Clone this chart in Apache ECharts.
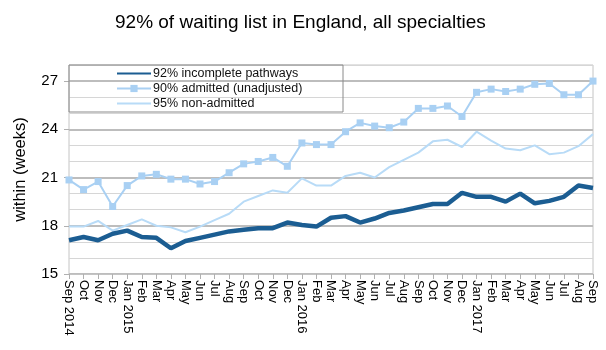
<!DOCTYPE html>
<html>
<head>
<meta charset="utf-8">
<script src="https://cdn.jsdelivr.net/npm/echarts@6/dist/echarts.min.js"></script>
<style>
  html, body { margin: 0; padding: 0; background: #fff; }
  #chart { width: 606px; height: 350px; }
</style>
</head>
<body>
<div id="chart"></div>
<script>
// months Sep 2014 .. Sep 2017
var months = ['Sep 2014','Oct','Nov','Dec','Jan 2015','Feb','Mar','Apr','May','Jun','Jul','Aug',
  'Sep','Oct','Nov','Dec','Jan 2016','Feb','Mar','Apr','May','Jun','Jul','Aug',
  'Sep','Oct','Nov','Dec','Jan 2017','Feb','Mar','Apr','May','Jun','Jul','Aug','Sep'];

var incomplete = [17.1,17.3,17.1,17.5,17.7,17.3,17.25,16.6,17.05,17.25,17.45,17.65,
  17.75,17.85,17.85,18.2,18.05,17.95,18.5,18.6,18.2,18.45,18.8,18.95,
  19.15,19.35,19.35,20.05,19.8,19.8,19.5,20.0,19.4,19.55,19.8,20.5,20.35];

var admitted = [20.85,20.25,20.75,19.2,20.5,21.1,21.2,20.9,20.9,20.6,20.75,21.3,
  21.85,22.0,22.25,21.7,23.15,23.05,23.05,23.85,24.4,24.2,24.1,24.45,
  25.3,25.3,25.45,24.8,26.3,26.5,26.35,26.5,26.8,26.85,26.15,26.15,27.0];

var nonAdmitted = [17.95,17.95,18.3,17.7,18.05,18.4,18.0,17.9,17.6,17.95,18.35,18.75,
  19.5,19.85,20.2,20.05,20.95,20.5,20.5,21.1,21.3,21.0,21.65,22.1,
  22.55,23.25,23.35,22.9,23.85,23.3,22.8,22.7,23.0,22.45,22.55,22.95,23.7];

var yTicks = [15,18,21,24,27];

var chart = echarts.init(document.getElementById('chart'));
chart.setOption({
  animation: false,
  textStyle: { fontFamily: 'Liberation Sans, Arial, sans-serif' },
  title: {
    text: '92% of waiting list in England, all specialties',
    left: 110,
    top: 8,
    textStyle: { fontSize: 19, fontWeight: 'normal', color: '#000' }
  },
  legend: {
    orient: 'vertical',
    left: 116,
    top: 67,
    itemWidth: 34,
    itemHeight: 9,
    itemGap: 2,
    padding: 0,
    textStyle: { fontSize: 12.5, color: '#111', padding: [0, 0, 0, -3] },
    data: [
      { name: '92% incomplete pathways', itemStyle: { opacity: 0 } },
      { name: '90% admitted (unadjusted)' },
      { name: '95% non-admitted', itemStyle: { opacity: 0 } }
    ]
  },
  graphic: [{
    type: 'rect',
    shape: { x: 69, y: 65, width: 274, height: 47 },
    style: { fill: 'none', stroke: '#8a8a8a', lineWidth: 1 },
    z: 10
  }],
  grid: {
    left: 69, right: 13, top: 65, bottom: 76,
    show: true, borderColor: '#c4c4c4', borderWidth: 1
  },
  xAxis: {
    type: 'category',
    data: months,
    boundaryGap: false,
    axisLine: { lineStyle: { color: '#c4c4c4' } },
    axisTick: { show: true, interval: 0, length: 5, lineStyle: { color: '#b0b0b0' } },
    axisLabel: { interval: 0, rotate: -90, fontSize: 13, color: '#000', margin: 6 },
    splitLine: { show: false }
  },
  yAxis: [{
    type: 'value',
    min: 15, max: 28, interval: 1,
    axisLine: { show: false },
    axisTick: { show: false },
    axisLabel: { show: false },
    splitLine: { lineStyle: { color: '#d6d6d6', width: 1 } }
  }, {
    type: 'value',
    position: 'left',
    min: 15, max: 28, interval: 3,
    name: 'within (weeks)',
    nameLocation: 'middle',
    nameGap: 40,
    nameTextStyle: { fontSize: 16.5, color: '#000' },
    axisLine: { show: false },
    axisTick: { show: true, length: 5, customValues: yTicks, lineStyle: { color: '#b0b0b0' } },
    axisLabel: { fontSize: 15, color: '#000', margin: 11, customValues: yTicks },
    splitLine: { lineStyle: { color: '#bdbdbd', width: 2 } }
  }],
  series: [{
    name: '92% incomplete pathways',
    type: 'line',
    data: incomplete,
    showSymbol: false,
    symbol: 'none',
    z: 5,
    itemStyle: { color: '#1b5d92' },
    lineStyle: { width: 4.5, color: '#1b5d92' }
  }, {
    name: '90% admitted (unadjusted)',
    type: 'line',
    data: admitted,
    symbol: 'rect',
    symbolSize: 7,
    z: 4,
    itemStyle: { color: '#a9d0f3' },
    lineStyle: { width: 2, color: '#a9d0f3' }
  }, {
    name: '95% non-admitted',
    type: 'line',
    data: nonAdmitted,
    showSymbol: false,
    symbol: 'none',
    z: 3,
    itemStyle: { color: '#b8dbf7' },
    lineStyle: { width: 2, color: '#b8dbf7' }
  }]
});
</script>
</body>
</html>
